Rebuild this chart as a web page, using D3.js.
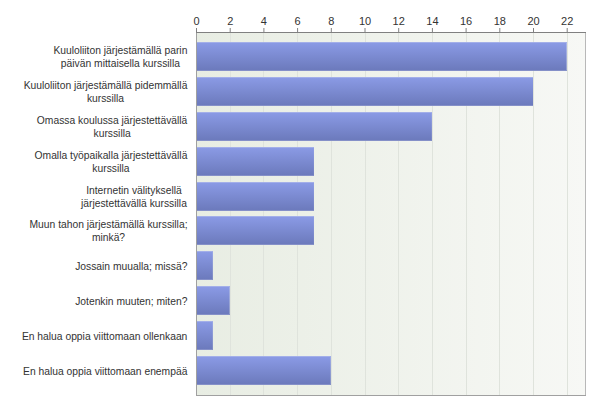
<!DOCTYPE html>
<html><head><meta charset="utf-8">
<script src="https://cdn.jsdelivr.net/npm/d3@7"></script>
<style>body{margin:0;background:#fff}svg{display:block}</style>
</head><body>
<svg id="c" width="600" height="410"></svg>
<script>
const categories = [
  "Kuuloliiton järjestämällä parin\npäivän mittaisella kurssilla",
  "Kuuloliiton järjestämällä pidemmällä\nkurssilla",
  "Omassa koulussa järjestettävällä\nkurssilla",
  "Omalla työpaikalla järjestettävällä\nkurssilla",
  "Internetin välityksellä\njärjestettävällä kurssilla",
  "Muun tahon järjestämällä kurssilla;\nminkä?",
  "Jossain muualla; missä?",
  "Jotenkin muuten; miten?",
  "En halua oppia viittomaan ollenkaan",
  "En halua oppia viittomaan enempää"
];
const values = [22, 20, 14, 7, 7, 7, 1, 2, 1, 8];
const tickValues = [0, 2, 4, 6, 8, 10, 12, 14, 16, 18, 20, 22];

const svg = d3.select("#c");
const L = 196, R = 585, T = 32, B = 395;
const x = d3.scaleLinear().domain([0, 22]).range([L, 566.7]);
const y = d3.scaleBand().domain(categories).range([T, B]).paddingInner(0.17).paddingOuter(0.285);

const defs = svg.append("defs");
const bg = defs.append("linearGradient").attr("id", "bg").attr("x1", 0).attr("x2", 1).attr("y1", 0).attr("y2", 0);
bg.append("stop").attr("offset", "0%").attr("stop-color", "#e8ede3");
bg.append("stop").attr("offset", "100%").attr("stop-color", "#f7f8f5");
const bar = defs.append("linearGradient").attr("id", "bar").attr("x1", 0).attr("x2", 0).attr("y1", 0).attr("y2", 1);
bar.append("stop").attr("offset", "0%").attr("stop-color", "#8b9be6");
bar.append("stop").attr("offset", "100%").attr("stop-color", "#6b79bb");

svg.append("rect").attr("x", L).attr("y", T).attr("width", R - L).attr("height", B - T).attr("fill", "url(#bg)");

// grid lines
svg.append("g").selectAll("line").data(tickValues.slice(1)).join("line")
  .attr("x1", d => Math.round(x(d)) + 0.5).attr("x2", d => Math.round(x(d)) + 0.5)
  .attr("y1", T).attr("y2", B).attr("stroke", "#dfe3dc").attr("stroke-width", 1);

// borders
svg.append("line").attr("x1", R + 0.5).attr("x2", R + 0.5).attr("y1", T).attr("y2", B).attr("stroke", "#b8b8b8");
svg.append("line").attr("x1", L).attr("x2", R + 1).attr("y1", B + 0.5).attr("y2", B + 0.5).attr("stroke", "#a0a0a0");
svg.append("line").attr("x1", L + 0.5).attr("x2", L + 0.5).attr("y1", T).attr("y2", B + 1).attr("stroke", "#a0a0a0");

// bars
const g = svg.append("g");
categories.forEach((c, i) => {
  const y0 = Math.round(y(c)), h = Math.round(y.bandwidth());
  const w = x(values[i]) - x(0);
  g.append("rect").attr("x", L + 1).attr("y", y0).attr("width", w - 1).attr("height", h).attr("fill", "url(#bar)");
  g.append("rect").attr("x", L + 1).attr("y", y0).attr("width", w - 1).attr("height", 1).attr("fill", "#a3afe9");
  g.append("rect").attr("x", L + 1).attr("y", y0 + h - 1).attr("width", w - 1).attr("height", 1).attr("fill", "#8590c8");
});

// top axis
const ax = svg.append("g").attr("transform", `translate(0,${T})`)
  .call(d3.axisTop(x).tickValues(tickValues).tickSize(4).tickPadding(3));
ax.select(".domain").attr("stroke", "#808080").attr("d", `M${L},0.5H${R + 1}`);
ax.selectAll(".tick line").attr("stroke", "#808080");
ax.selectAll("text").attr("font-family", "Liberation Sans, Arial, sans-serif").attr("font-size", 11).attr("fill", "#333");

// category labels
const lab = svg.append("g").attr("font-family", "Liberation Sans, Arial, sans-serif").attr("font-size", 10.3).attr("fill", "#333");
categories.forEach(c => {
  const lines = c.split("\n");
  const cy = y(c) + y.bandwidth() / 2;
  const t = lab.append("text").attr("text-anchor", "middle");
  lines.forEach((ln, k) => {
    t.append("tspan").attr("x", 0).attr("y", cy + (k - (lines.length - 1) / 2) * 13 + 4).text(ln);
  });
  const bb = t.node().getBBox();
  const cx = 187.5 - bb.width / 2;
  t.selectAll("tspan").attr("x", cx);
});
</script>
</body></html>
